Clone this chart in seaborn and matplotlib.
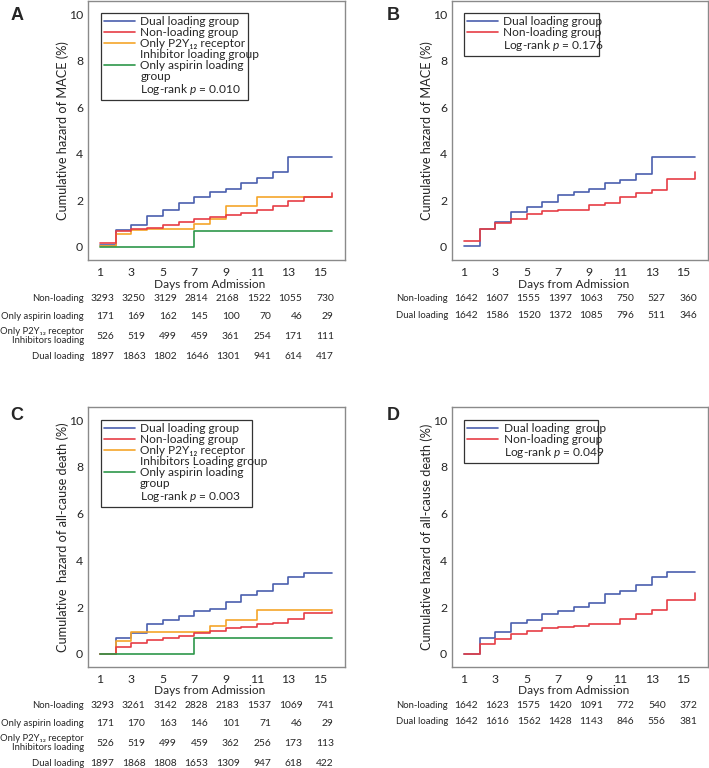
import matplotlib
matplotlib.use("Agg")
import matplotlib.pyplot as plt
from matplotlib.lines import Line2D
import pandas as pd
import seaborn as sns

OUTPUT_IMAGE = "out.png"

# Step points (one per day, last one = end of follow-up)
DAYS = [1, 2, 3, 4, 5, 6, 7, 8, 9, 10, 11, 12, 13, 14, 15, 15.8]
TICK_DAYS = [1, 3, 5, 7, 9, 11, 13, 15]

# Panel A - cumulative hazard of MACE (%), four groups
A_DUAL = [0.08, 0.71, 0.93, 1.35, 1.57, 1.87, 2.15, 2.35, 2.49, 2.75, 2.96, 3.22, 3.85, 3.85, 3.85, 3.85]
A_NON = [0.18, 0.68, 0.75, 0.83, 0.94, 1.08, 1.22, 1.30, 1.37, 1.44, 1.60, 1.75, 1.96, 2.15, 2.15, 2.30]
A_P2Y12 = [0.05, 0.54, 0.72, 0.75, 0.75, 0.75, 0.97, 1.22, 1.75, 1.75, 2.14, 2.14, 2.14, 2.14, 2.14, 2.14]
A_ASPIRIN = [0.0, 0.0, 0.0, 0.0, 0.0, 0.0, 0.68, 0.68, 0.68, 0.68, 0.68, 0.68, 0.68, 0.68, 0.68, 0.68]

# Panel B - MACE, matched dual vs non-loading
B_DUAL = [0.05, 0.78, 1.08, 1.51, 1.72, 1.95, 2.25, 2.38, 2.48, 2.75, 2.86, 3.15, 3.85, 3.85, 3.85, 3.85]
B_NON = [0.25, 0.78, 1.05, 1.20, 1.40, 1.54, 1.60, 1.60, 1.78, 1.90, 2.15, 2.30, 2.45, 2.90, 2.90, 3.20]

# Panel C - cumulative hazard of all-cause death (%), four groups
C_DUAL = [0.0, 0.66, 0.89, 1.26, 1.43, 1.64, 1.84, 1.94, 2.20, 2.50, 2.70, 2.99, 3.29, 3.47, 3.47, 3.47]
C_NON = [0.0, 0.31, 0.46, 0.60, 0.67, 0.77, 0.91, 0.99, 1.10, 1.15, 1.27, 1.34, 1.50, 1.74, 1.74, 1.80]
C_P2Y12 = [0.0, 0.57, 0.94, 0.94, 0.94, 0.94, 0.94, 1.20, 1.46, 1.46, 1.86, 1.86, 1.86, 1.86, 1.86, 1.86]
C_ASPIRIN = [0.0, 0.0, 0.0, 0.0, 0.0, 0.0, 0.68, 0.68, 0.68, 0.68, 0.68, 0.68, 0.68, 0.68, 0.68, 0.68]

# Panel D - all-cause death, matched dual vs non-loading
D_DUAL = [0.0, 0.69, 0.93, 1.31, 1.44, 1.70, 1.84, 1.99, 2.16, 2.56, 2.67, 2.96, 3.29, 3.49, 3.49, 3.49]
D_NON = [0.0, 0.41, 0.64, 0.84, 1.00, 1.10, 1.17, 1.20, 1.27, 1.27, 1.51, 1.70, 1.89, 2.29, 2.29, 2.60]

# Numbers at risk
A_RISK_NON = [3293, 3250, 3129, 2814, 2168, 1522, 1055, 730]
A_RISK_ASPIRIN = [171, 169, 162, 145, 100, 70, 46, 29]
A_RISK_P2Y12 = [526, 519, 499, 459, 361, 254, 171, 111]
A_RISK_DUAL = [1897, 1863, 1802, 1646, 1301, 941, 614, 417]

B_RISK_NON = [1642, 1607, 1555, 1397, 1063, 750, 527, 360]
B_RISK_DUAL = [1642, 1586, 1520, 1372, 1085, 796, 511, 346]

C_RISK_NON = [3293, 3261, 3142, 2828, 2183, 1537, 1069, 741]
C_RISK_ASPIRIN = [171, 170, 163, 146, 101, 71, 46, 29]
C_RISK_P2Y12 = [526, 519, 499, 459, 362, 256, 173, 113]
C_RISK_DUAL = [1897, 1868, 1808, 1653, 1309, 947, 618, 422]

D_RISK_NON = [1642, 1623, 1575, 1420, 1091, 772, 540, 372]
D_RISK_DUAL = [1642, 1616, 1562, 1428, 1143, 846, 556, 381]

COLORS = {
    "Dual": "#4a5fae",
    "Non": "#e63d45",
    "P2Y12": "#f5a52a",
    "Aspirin": "#2e974a",
}
FRAME_GREY = "#8a8a8a"
ROW_OFFSETS_4 = [38, 56, 76, 96]
ROW_OFFSETS_2 = [38, 55]


def draw_panel(ax, curves, legend_rows, legend_box, risk_rows, ylabel, letter, letter_xy):
    # long format for seaborn
    frames = []
    for name, vals in curves:
        frames.append(pd.DataFrame({"day": DAYS, "hazard": vals, "group": name}))
    df = pd.concat(frames, ignore_index=True)
    order = [n for n, _ in curves]

    sns.lineplot(data=df, x="day", y="hazard", hue="group", hue_order=order,
                 palette=COLORS, drawstyle="steps-post", linewidth=1.2,
                 estimator=None, legend=False, ax=ax)

    ax.set_xlim(0.23, 16.6)
    ax.set_ylim(-0.56, 10.56)
    ax.set_yticks([0, 2, 4, 6, 8, 10])
    ax.set_xticks(TICK_DAYS)
    ax.tick_params(axis="x", length=0, pad=5, labelsize=8.8)
    ax.tick_params(axis="y", length=3, width=0.8, color=FRAME_GREY, labelsize=8.8, pad=0.5)
    for sp in ax.spines.values():
        sp.set_color(FRAME_GREY)
        sp.set_linewidth(1.0)
    ax.set_xlabel("")
    ax.set_ylabel(ylabel, fontsize=9.2, labelpad=0)

    ax.annotate("Days from Admission", xy=(8, 0), xycoords=("data", "axes fraction"),
                xytext=(0, -24), textcoords="offset pixels", ha="center", va="center",
                fontsize=8.6)

    # legend with continuation lines, fixed box width
    handles, labels = [], []
    for text, key in legend_rows:
        color = COLORS[key] if key else "none"
        handles.append(Line2D([], [], color=color, lw=1.2))
        labels.append(text)
    x0, top, width = legend_box
    leg = ax.legend(handles, labels, loc="upper left", mode="expand",
                    bbox_to_anchor=(x0, 0, width, top),
                    borderaxespad=0, fontsize=8.6, frameon=True, fancybox=False,
                    handlelength=2.6, handletextpad=0.45, labelspacing=0.0,
                    borderpad=0.25)
    leg.get_frame().set_edgecolor("black")
    leg.get_frame().set_linewidth(0.9)

    # numbers at risk table
    offsets = ROW_OFFSETS_4 if len(risk_rows) == 4 else ROW_OFFSETS_2
    for (label, counts), off in zip(risk_rows, offsets):
        ax.annotate(label, xy=(0, 0), xycoords="axes fraction", xytext=(-4, -off),
                    textcoords="offset pixels", ha="right", va="center",
                    fontsize=6.8, multialignment="right", linespacing=1.0)
        for d, n in zip(TICK_DAYS, counts):
            ax.annotate(str(n), xy=(d, 0), xycoords=("data", "axes fraction"),
                        xytext=(14, -off), textcoords="offset pixels",
                        ha="right", va="center", fontsize=7.4)

    ax.figure.text(letter_xy[0], letter_xy[1], letter, fontsize=13, fontweight="bold",
                   family=["Liberation Sans", "DejaVu Sans"], ha="center", va="center")


def main():
    sns.set_theme(style="white")
    plt.rcParams["font.family"] = ["Lato", "DejaVu Sans"]
    plt.rcParams["mathtext.fontset"] = "custom"
    plt.rcParams["mathtext.rm"] = "Lato"
    plt.rcParams["mathtext.it"] = "Lato:italic"
    plt.rcParams["mathtext.bf"] = "Lato:bold"

    W, H = 709, 768
    fig = plt.figure(figsize=(W / 100, H / 100), dpi=100)

    def box(x0, y0, x1, y1):
        return [x0 / W, 1 - y1 / H, (x1 - x0) / W, (y1 - y0) / H]

    ax_a = fig.add_axes(box(88, 1, 345, 260))
    ax_b = fig.add_axes(box(452, 1, 708, 260))
    ax_c = fig.add_axes(box(88, 407, 345, 667))
    ax_d = fig.add_axes(box(452, 407, 708, 667))

    p2y = "Only P2Y\u2081\u2082 receptor"

    draw_panel(
        ax_a,
        [("Dual", A_DUAL), ("P2Y12", A_P2Y12), ("Non", A_NON), ("Aspirin", A_ASPIRIN)],
        [("Dual loading group", "Dual"), ("Non-loading group", "Non"),
         (p2y, "P2Y12"), ("Inhibitor loading group", None),
         ("Only aspirin loading", "Aspirin"), ("group", None),
         (r"Log-rank $p$ = 0.010", None)],
        (0.05, 0.953, 0.572),
        [("Non-loading", A_RISK_NON), ("Only aspirin loading", A_RISK_ASPIRIN),
         (p2y + "\nInhibitors loading", A_RISK_P2Y12),
         ("Dual loading", A_RISK_DUAL)],
        "Cumulative hazard of MACE (%)", "A", (17 / W, 1 - 15 / H))

    draw_panel(
        ax_b,
        [("Dual", B_DUAL), ("Non", B_NON)],
        [("Dual loading group", "Dual"), ("Non-loading group", "Non"),
         (r"Log-rank $p$ = 0.176", None)],
        (0.047, 0.953, 0.527),
        [("Non-loading", B_RISK_NON), ("Dual loading", B_RISK_DUAL)],
        "Cumulative hazard of MACE (%)", "B", (393 / W, 1 - 15 / H))

    draw_panel(
        ax_c,
        [("Dual", C_DUAL), ("P2Y12", C_P2Y12), ("Non", C_NON), ("Aspirin", C_ASPIRIN)],
        [("Dual loading group", "Dual"), ("Non-loading group", "Non"),
         (p2y, "P2Y12"), ("Inhibitors Loading group", None),
         ("Only aspirin loading", "Aspirin"), ("group", None),
         (r"Log-rank $p$ = 0.003", None)],
        (0.049, 0.95, 0.588),
        [("Non-loading", C_RISK_NON), ("Only aspirin loading", C_RISK_ASPIRIN),
         (p2y + "\nInhibitors loading", C_RISK_P2Y12),
         ("Dual loading", C_RISK_DUAL)],
        "Cumulative  hazard of all-cause death (%)", "C", (17 / W, 1 - 415 / H))

    draw_panel(
        ax_d,
        [("Dual", D_DUAL), ("Non", D_NON)],
        [("Dual loading  group", "Dual"), ("Non-loading group", "Non"),
         (r"Log-rank $p$ = 0.049", None)],
        (0.048, 0.95, 0.524),
        [("Non-loading", D_RISK_NON), ("Dual loading", D_RISK_DUAL)],
        "Cumulative hazard of all-cause death (%)", "D", (393 / W, 1 - 415 / H))

    fig.savefig(OUTPUT_IMAGE, dpi=100)
    print(f"Chart saved to {OUTPUT_IMAGE}")


if __name__ == "__main__":
    main()
